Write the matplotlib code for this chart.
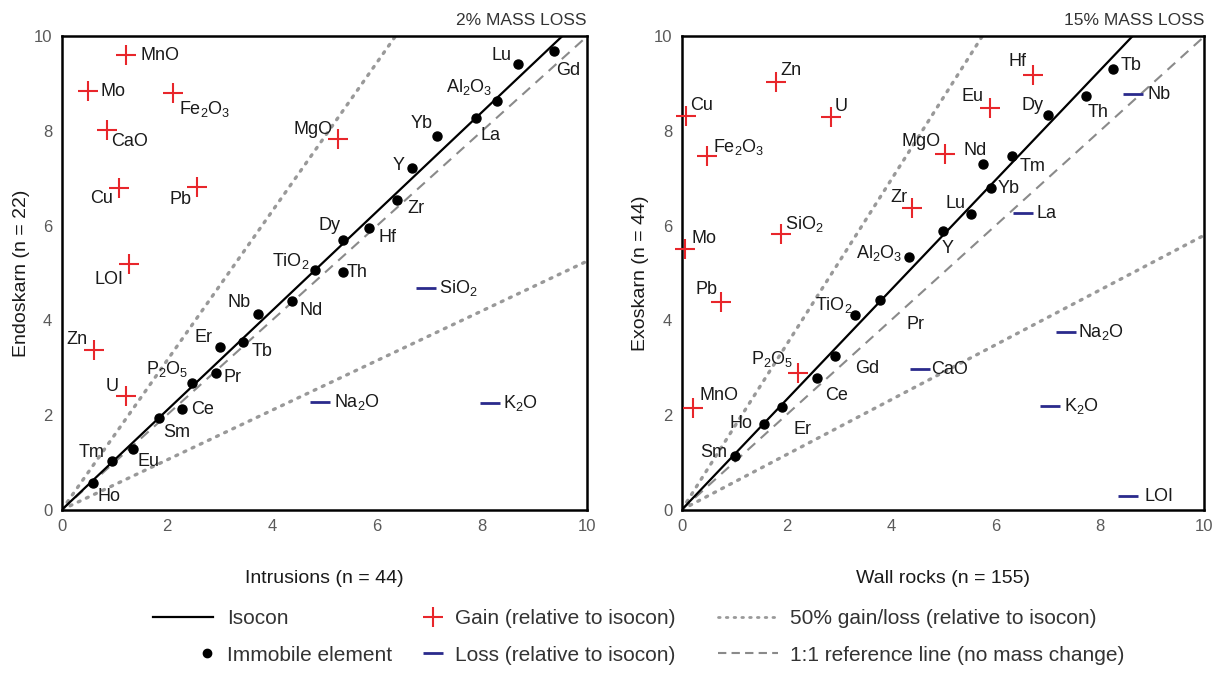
import re
import numpy as np
import matplotlib
matplotlib.use('Agg')
import matplotlib.pyplot as plt
from matplotlib.lines import Line2D
from matplotlib.legend_handler import HandlerLine2D

plt.rcParams['font.family'] = ['Liberation Sans', 'DejaVu Sans']
plt.rcParams['mathtext.fontset'] = 'custom'
plt.rcParams['mathtext.rm'] = 'Liberation Sans'

# ---- left panel: intrusions vs endoskarn ----
left_slope = 1.05
left_gain_names = ['MnO', 'Mo', 'Fe2O3', 'CaO', 'Cu', 'Pb', 'LOI', 'MgO', 'Zn', 'U']
left_gain_x = [1.22, 0.50, 2.11, 0.85, 1.09, 2.58, 1.28, 5.26, 0.61, 1.22]
left_gain_y = [9.60, 8.84, 8.81, 8.02, 6.80, 6.81, 5.19, 7.84, 3.37, 2.40]
left_loss_names = ['SiO2', 'Na2O', 'K2O']
left_loss_x = [6.93, 4.91, 8.15]
left_loss_y = [4.68, 2.27, 2.25]
left_imm_names = ['Lu', 'Gd', 'Al2O3', 'La', 'Yb', 'Y', 'Zr', 'Hf', 'Dy', 'TiO2', 'Th',
                  'Nd', 'Nb', 'Er', 'Tb', 'Pr', 'P2O5', 'Ce', 'Sm', 'Eu', 'Tm', 'Ho']
left_imm_x = [8.69, 9.37, 8.29, 7.89, 7.14, 6.67, 6.38, 5.85, 5.35, 4.82, 5.35,
              4.38, 3.73, 3.01, 3.45, 2.93, 2.48, 2.29, 1.85, 1.35, 0.95, 0.59]
left_imm_y = [9.41, 9.70, 8.64, 8.28, 7.90, 7.22, 6.55, 5.95, 5.70, 5.06, 5.02,
              4.41, 4.13, 3.43, 3.54, 2.88, 2.67, 2.12, 1.93, 1.29, 1.02, 0.57]

# ---- right panel: wall rocks vs exoskarn ----
right_slope = 1.16
right_gain_names = ['Zn', 'Cu', 'U', 'Fe2O3', 'SiO2', 'Mo', 'Zr', 'MgO', 'Eu', 'Hf', 'Pb', 'P2O5', 'MnO']
right_gain_x = [1.80, 0.08, 2.85, 0.48, 1.90, 0.06, 4.41, 5.04, 5.90, 6.72, 0.75, 2.22, 0.21]
right_gain_y = [9.04, 8.31, 8.29, 7.48, 5.83, 5.51, 6.37, 7.52, 8.48, 9.19, 4.38, 2.88, 2.14]
right_loss_names = ['Nb', 'La', 'Na2O', 'CaO', 'K2O', 'LOI']
right_loss_x = [8.64, 6.53, 7.36, 4.56, 7.05, 8.54]
right_loss_y = [8.78, 6.26, 3.76, 2.97, 2.20, 0.28]
right_imm_names = ['Tb', 'Th', 'Dy', 'Tm', 'Nd', 'Yb', 'Lu', 'Y', 'Al2O3', 'Pr',
                   'TiO2', 'Gd', 'Ce', 'Er', 'Ho', 'Sm']
right_imm_x = [8.26, 7.74, 7.01, 6.32, 5.77, 5.92, 5.54, 5.00, 4.35, 3.79,
               3.31, 2.93, 2.59, 1.92, 1.57, 1.02]
right_imm_y = [9.32, 8.74, 8.33, 7.48, 7.31, 6.80, 6.24, 5.88, 5.34, 4.42,
               4.12, 3.25, 2.78, 2.16, 1.82, 1.13]

# label placement (offset in pixels, horizontal alignment)
left_label_pos = {
    'gain': {'MnO': (14, 0, 'left'), 'Mo': (12, 0, 'left'), 'Fe2O3': (6, -16, 'left'),
             'CaO': (5, -11, 'left'), 'Cu': (-6, -11, 'right'), 'Pb': (-6, -12, 'right'),
             'LOI': (-6, -15, 'right'), 'MgO': (-5, 9, 'right'), 'Zn': (-6, 11, 'right'),
             'U': (-7, 10, 'right')},
    'loss': {'SiO2': (13, 0, 'left'), 'Na2O': (14, 0, 'left'), 'K2O': (13, 0, 'left')},
    'imm': {'Lu': (-7, 9, 'right'), 'Gd': (2, -20, 'left'), 'Al2O3': (-5, 14, 'right'),
            'La': (4, -18, 'left'), 'Yb': (-4, 12, 'right'), 'Y': (-7, 2, 'right'),
            'Zr': (10, -9, 'left'), 'Hf': (9, -9, 'left'), 'Dy': (-2, 14, 'right'),
            'TiO2': (-5, 9, 'right'), 'Th': (4, 0, 'left'), 'Nd': (8, -10, 'left'),
            'Nb': (-7, 12, 'right'), 'Er': (-7, 10, 'right'), 'Tb': (9, -9, 'left'),
            'Pr': (8, -4, 'left'), 'P2O5': (-4, 14, 'right'), 'Ce': (9, 0, 'left'),
            'Sm': (4, -14, 'left'), 'Eu': (5, -13, 'left'), 'Tm': (-7, 9, 'right'),
            'Ho': (5, -14, 'left')},
}
right_label_pos = {
    'gain': {'Zn': (4, 11, 'left'), 'Cu': (4, 11, 'left'), 'U': (4, 11, 'left'),
             'Fe2O3': (6, 9, 'left'), 'SiO2': (4, 10, 'left'), 'Mo': (6, 10, 'left'),
             'Zr': (-5, 11, 'right'), 'MgO': (-5, 12, 'right'), 'Eu': (-7, 12, 'right'),
             'Hf': (-6, 13, 'right'), 'Pb': (-4, 13, 'right'), 'P2O5': (-4, 14, 'right'),
             'MnO': (7, 13, 'left')},
    'loss': {'Nb': (14, 0, 'left'), 'La': (13, 0, 'left'), 'Na2O': (12, 0, 'left'),
             'CaO': (11, 0, 'left'), 'K2O': (14, 0, 'left'), 'LOI': (16, 0, 'left')},
    'imm': {'Tb': (7, 3, 'left'), 'Th': (1, -16, 'left'), 'Dy': (-5, 10, 'right'),
            'Tm': (8, -11, 'left'), 'Nd': (3, 13, 'right'), 'Yb': (7, -1, 'left'),
            'Lu': (-6, 11, 'right'), 'Y': (5, -17, 'center'), 'Al2O3': (-7, 4, 'right'),
            'Pr': (27, -24, 'left'), 'TiO2': (-2, 10, 'right'), 'Gd': (20, -13, 'left'),
            'Ce': (8, -17, 'left'), 'Er': (11, -22, 'left'), 'Ho': (-11, 0, 'right'),
            'Sm': (-8, 4, 'right')},
}

RED = '#e8262b'
BLUE = '#2a2a8c'
GREY_DOT = '#999999'
GREY_DASH = '#8a8a8a'
LABEL_FS = 13


def chem(name):
    """Al2O3 -> Al$_2$O$_3$"""
    return re.sub(r'(\d)', r'$_\\mathregular{\1}$', name)


def label_points(ax, names, xs, ys, pos):
    for n, x, y in zip(names, xs, ys):
        dx, dy, ha = pos[n]
        ax.annotate(chem(n), (x, y), xytext=(dx, dy), textcoords='offset pixels',
                    ha=ha, va='center', fontsize=LABEL_FS, color='#1a1a1a')


def isocon_panel(ax, slope, gain, loss, imm, pos, xlabel, ylabel, title):
    xx = np.array([0, 10])
    ax.plot(xx, xx, color=GREY_DASH, lw=1.5, ls=(0, (5, 3.5)), zorder=1)
    ax.plot(xx, 1.5 * slope * xx, color=GREY_DOT, lw=2.4, ls=(0, (0.6, 2.1)),
            dash_capstyle='round', zorder=1)
    ax.plot(xx, 0.5 * slope * xx, color=GREY_DOT, lw=2.4, ls=(0, (0.6, 2.1)),
            dash_capstyle='round', zorder=1)
    ax.plot(xx, slope * xx, color='black', lw=1.6, zorder=2)

    ax.plot(gain[1], gain[2], '+', color=RED, ms=14, mew=1.5, ls='none', zorder=3, clip_on=False)
    ax.plot(loss[1], loss[2], '_', color=BLUE, ms=14, mew=2, ls='none', zorder=3, clip_on=False)
    ax.plot(imm[1], imm[2], 'o', color='black', ms=6.5, ls='none', zorder=3, clip_on=False)

    label_points(ax, *gain, pos['gain'])
    label_points(ax, *loss, pos['loss'])
    label_points(ax, *imm, pos['imm'])

    ax.set_xlim(0, 10)
    ax.set_ylim(0, 10)
    ax.set_xticks([0, 2, 4, 6, 8, 10])
    ax.set_yticks([0, 2, 4, 6, 8, 10])
    ax.tick_params(length=0, labelsize=12, labelcolor='#5a5a5a', pad=7)
    for s in ax.spines.values():
        s.set_linewidth(1.8)
    ax.set_xlabel(xlabel, fontsize=14, labelpad=26, color='#1a1a1a')
    ax.set_ylabel(ylabel, fontsize=14, labelpad=3, color='#1a1a1a')
    ax.set_title(title, loc='right', fontsize=12.5, color='#333333', pad=8)


class RightMarkerHandler(HandlerLine2D):
    """legend handle with the single marker near the right end of the box"""
    def get_xdata(self, legend, xdescent, ydescent, width, height, fontsize):
        m = width - xdescent - 0.3 * fontsize
        return np.array([m - 1.0, m + 1.0]), np.array([m])


fig = plt.figure(figsize=(12.22, 6.75), dpi=100)
ax1 = fig.add_axes([0.0507, 0.245, 0.4296, 0.701])
ax2 = fig.add_axes([0.558, 0.245, 0.4275, 0.701])

isocon_panel(ax1, left_slope,
             (left_gain_names, left_gain_x, left_gain_y),
             (left_loss_names, left_loss_x, left_loss_y),
             (left_imm_names, left_imm_x, left_imm_y),
             left_label_pos, 'Intrusions (n = 44)', 'Endoskarn (n = 22)', '2% MASS LOSS')
isocon_panel(ax2, right_slope,
             (right_gain_names, right_gain_x, right_gain_y),
             (right_loss_names, right_loss_x, right_loss_y),
             (right_imm_names, right_imm_x, right_imm_y),
             right_label_pos, 'Wall rocks (n = 155)', 'Exoskarn (n = 44)', '15% MASS LOSS')

# legend in three columns underneath
leg_kw = dict(frameon=False, fontsize=15, borderpad=0, borderaxespad=0,
              labelspacing=0.85, loc='upper left', labelcolor='#333333')
dot_handle = Line2D([], [], marker='o', color='black', ms=6, ls='none')
col1 = [Line2D([], [], color='black', lw=1.6), dot_handle]
col2 = [Line2D([], [], marker='+', color=RED, ms=14, mew=1.5, ls='none'),
        Line2D([], [], marker='_', color=BLUE, ms=14, mew=2, ls='none')]
col3 = [Line2D([], [], color=GREY_DOT, lw=2, ls=(0, (0.6, 2.2)), dash_capstyle='round'),
        Line2D([], [], color=GREY_DASH, lw=1.5, ls=(0, (4, 2.5)))]
top = 0.098
fig.legend(col1, ['Isocon', 'Immobile element'], bbox_to_anchor=(153 / 1222, top),
           handlelength=2.9, handletextpad=0.65,
           handler_map={dot_handle: RightMarkerHandler()}, **leg_kw)
fig.legend(col2, ['Gain (relative to isocon)', 'Loss (relative to isocon)'],
           bbox_to_anchor=(420 / 1222, top), handlelength=1.2, handletextpad=0.5, **leg_kw)
fig.legend(col3, ['50% gain/loss (relative to isocon)', '1:1 reference line (no mass change)'],
           bbox_to_anchor=(718 / 1222, top), handlelength=2.9, handletextpad=0.55, **leg_kw)

fig.savefig('out.png', dpi=100)
